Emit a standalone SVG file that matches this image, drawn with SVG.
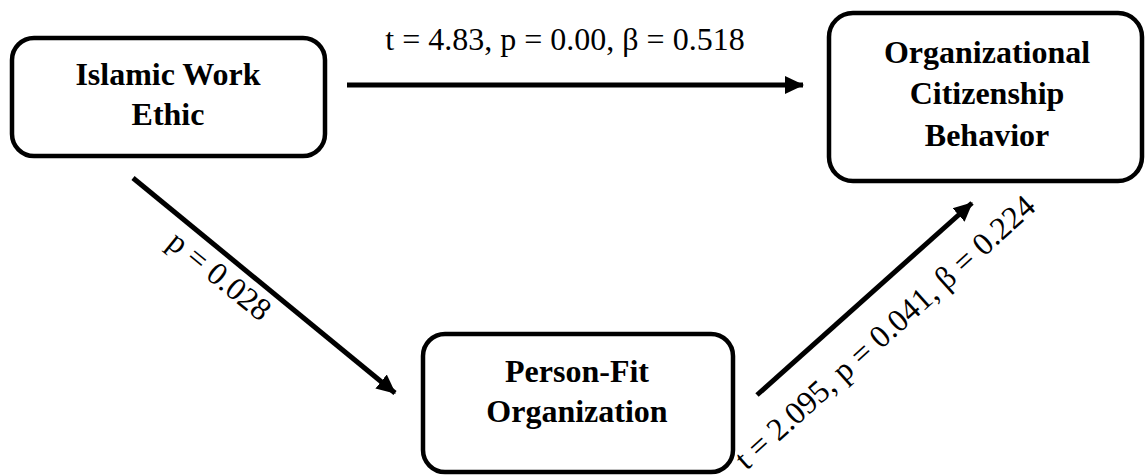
<svg xmlns="http://www.w3.org/2000/svg" width="1147" height="475" viewBox="0 0 1147 475">
<style>
.box{fill:#fff;stroke:#000;stroke-width:4.5}
.nt{font-family:"Liberation Serif","Times New Roman",serif;font-weight:bold;font-size:32px;text-anchor:middle;fill:#000}
.lt{font-family:"Liberation Serif","Times New Roman",serif;font-size:32px;text-anchor:middle;fill:#000}
.ed{stroke:#000;stroke-width:5;fill:none;marker-end:url(#ah)}
</style>
<defs>
<marker id="ah" markerUnits="userSpaceOnUse" markerWidth="20" markerHeight="20" viewBox="0 0 20 20" refX="18" refY="10" orient="auto">
<path d="M0,1 L19,10 L0,19 Z" fill="#000"/>
</marker>
</defs>
<g id="node-iwe">
<rect class="box" x="12" y="38" width="313" height="118" rx="22"/>
<text class="nt" x="168" y="85">Islamic Work</text>
<text class="nt" x="168" y="125">Ethic</text>
</g>
<g id="node-ocb">
<rect class="box" x="829" y="13" width="313" height="168" rx="24"/>
<text class="nt" x="987" y="63">Organizational</text>
<text class="nt" x="987" y="104">Citizenship</text>
<text class="nt" x="987" y="146">Behavior</text>
</g>
<g id="node-pfo">
<rect class="box" x="423" y="334" width="310" height="138" rx="22"/>
<text class="nt" x="577" y="382">Person-Fit</text>
<text class="nt" x="577" y="422">Organization</text>
</g>
<g id="connectors">
<line class="ed" x1="347" y1="85" x2="803" y2="85"/>
<line class="ed" x1="133" y1="178" x2="395" y2="393"/>
<line class="ed" x1="757" y1="395" x2="972" y2="203"/>
<text class="lt" x="565" y="50">t = 4.83, p = 0.00, β = 0.518</text>
<text class="lt" transform="translate(213,284) rotate(39)">p = 0.028</text>
<text class="lt" transform="translate(892,340) rotate(-42)">t = 2.095, p = 0.041, β = 0.224</text>
</g>
</svg>
